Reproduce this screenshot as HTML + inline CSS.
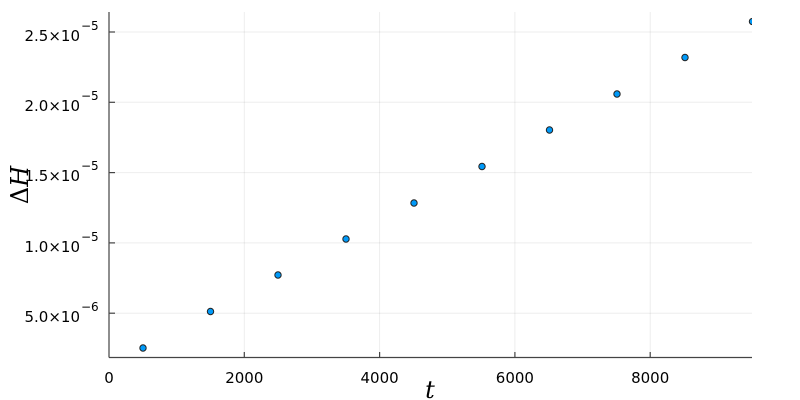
<!DOCTYPE html>
<html><head><style>body{margin:0;background:#fff}svg{display:block}</style></head><body>
<svg width="800" height="400" xmlns="http://www.w3.org/2000/svg" font-family="DejaVu Sans, Liberation Sans, sans-serif">
<defs><clipPath id="c"><rect x="109" y="12" width="643" height="346"/></clipPath></defs>
<g stroke="#000" stroke-opacity="0.07" stroke-width="1">
<line x1="244.3" y1="12" x2="244.3" y2="357"/><line x1="379.6" y1="12" x2="379.6" y2="357"/>
<line x1="514.9" y1="12" x2="514.9" y2="357"/><line x1="650.2" y1="12" x2="650.2" y2="357"/>
<line x1="109" y1="32" x2="752" y2="32"/><line x1="109" y1="102.3" x2="752" y2="102.3"/>
<line x1="109" y1="172.6" x2="752" y2="172.6"/><line x1="109" y1="242.9" x2="752" y2="242.9"/>
<line x1="109" y1="313.2" x2="752" y2="313.2"/>
</g>
<g stroke="#444" stroke-width="1.2">
<line x1="109" y1="12" x2="109" y2="357.5"/><line x1="109" y1="357.5" x2="752" y2="357.5"/>
<line x1="244.3" y1="357.5" x2="244.3" y2="352"/><line x1="379.6" y1="357.5" x2="379.6" y2="352"/>
<line x1="514.9" y1="357.5" x2="514.9" y2="352"/><line x1="650.2" y1="357.5" x2="650.2" y2="352"/>
<line x1="109" y1="32" x2="115" y2="32"/><line x1="109" y1="102.3" x2="115" y2="102.3"/>
<line x1="109" y1="172.6" x2="115" y2="172.6"/><line x1="109" y1="242.9" x2="115" y2="242.9"/>
<line x1="109" y1="313.2" x2="115" y2="313.2"/>
</g>
<g font-size="15" fill="#000" text-anchor="middle">
<text x="109" y="383">0</text><text x="244.3" y="383">2000</text><text x="379.6" y="383">4000</text>
<text x="514.9" y="383">6000</text><text x="650.2" y="383">8000</text>
</g>
<g font-size="15" fill="#000" text-anchor="end">
<text x="80" y="41">2.5×10</text><text x="80" y="111">2.0×10</text><text x="80" y="181">1.5×10</text>
<text x="80" y="252">1.0×10</text><text x="80" y="322">5.0×10</text>
</g>
<g font-size="12" fill="#000">
<text x="81" y="30">−5</text><text x="81" y="100">−5</text><text x="81" y="170">−5</text>
<text x="81" y="241">−5</text><text x="81" y="311">−6</text>
</g>
<text x="430" y="398" font-size="24" font-style="italic" font-family="DejaVu Serif, serif" text-anchor="middle">t</text>
<text transform="translate(28,185) rotate(-90)" font-size="24" font-family="DejaVu Serif, serif" text-anchor="middle">Δ<tspan font-style="italic">H</tspan></text>
<g clip-path="url(#c)" fill="#009af9" stroke="#222" stroke-width="1">
<circle cx="143" cy="348" r="3.2"/><circle cx="210.5" cy="311.5" r="3.2"/><circle cx="278" cy="275" r="3.2"/>
<circle cx="346" cy="239" r="3.2"/><circle cx="414" cy="203" r="3.2"/><circle cx="482" cy="166.5" r="3.2"/>
<circle cx="549.5" cy="130" r="3.2"/><circle cx="617" cy="94" r="3.2"/><circle cx="685" cy="57.5" r="3.2"/>
<circle cx="752.5" cy="21.5" r="3.2"/>
</g>
</svg>
</body></html>
